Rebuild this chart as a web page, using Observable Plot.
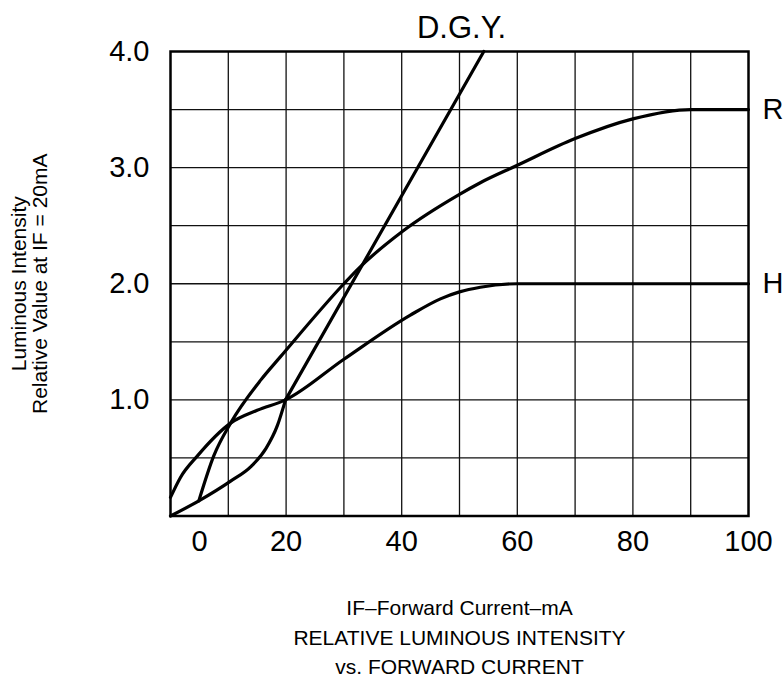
<!DOCTYPE html>
<html><head><meta charset="utf-8">
<script src="https://cdn.jsdelivr.net/npm/d3@7"></script>
<script src="https://cdn.jsdelivr.net/npm/@observablehq/plot@0.6"></script>
<style>body{margin:0;background:#fff} #chart svg{display:block}</style>
</head><body><div id="chart"></div>
<script>
// D.G.Y. curve: curved start up to IF = 20 mA, then a straight line
const dgyX = [0, 4.9, 10.4, 14, 16.5, 18.5, 19.9];
const dgyY = [0, 0.13, 0.30, 0.43, 0.58, 0.78, 1.0];
const dgyLineX = [19.9, 54.2];
const dgyLineY = [1.0, 4.0];
// R curve
const rX = [4.9, 7.5, 10.4, 15.6, 19.0, 30, 32.3, 40.1, 50, 53.6, 60, 70, 80, 90, 100];
const rY = [0.13, 0.52, 0.80, 1.17, 1.37, 2.0, 2.12, 2.45, 2.77, 2.87, 3.02, 3.25, 3.42, 3.5, 3.5];
// H curve
const hX = [0, 1.7, 4.7, 10.4, 15, 19.9, 30, 41.5, 46.7, 50, 53.6, 60, 100];
const hY = [0.16, 0.33, 0.52, 0.80, 0.91, 1.0, 1.35, 1.73, 1.87, 1.93, 1.97, 2.0, 2.0];

const xTicks = [20, 40, 60, 80, 100];
const xZeroTick = [0];
const yTicks = [1, 2, 3, 4];
const gridXValues = [10, 20, 30, 40, 50, 60, 70, 80, 90];
const gridYValues = [0.5, 1, 1.5, 2, 2.5, 3, 3.5];

const titleText = "D.G.Y.";
const yTitle = "Luminous Intensity\nRelative Value at IF = 20mA";
const caption = "IF\u2013Forward Current\u2013mA\nRELATIVE LUMINOUS INTENSITY\nvs. FORWARD CURRENT";

const toPts = (xs, ys) => xs.map((x, i) => ({x, y: ys[i]}));
const dgy = toPts(dgyX, dgyY);
const dgyLine = toPts(dgyLineX, dgyLineY);
const rCurve = toPts(rX, rY);
const hCurve = toPts(hX, hY);
const endLabels = [
  {label: "R", x: rX[rX.length - 1], y: rY[rY.length - 1]},
  {label: "H", x: hX[hX.length - 1], y: hY[hY.length - 1]}
];

const lineOpts = {x: "x", y: "y", stroke: "black", strokeWidth: 3.2, curve: "monotone-x", strokeLinejoin: "round", strokeLinecap: "round"};
const tickFont = 29;

const chart = Plot.plot({
  width: 784,
  height: 687,
  marginLeft: 170,
  marginRight: 36,
  marginTop: 51,
  marginBottom: 171.5,
  style: {fontFamily: "'Liberation Sans', Arial, Helvetica, sans-serif", background: "white", color: "black"},
  x: {domain: [0, 100]},
  y: {domain: [0, 4]},
  marks: [
    Plot.gridX(gridXValues, {stroke: "#111", strokeOpacity: 1, strokeWidth: 1.3}),
    Plot.gridY(gridYValues, {stroke: "#111", strokeOpacity: 1, strokeWidth: 1.3}),
    Plot.line(dgy, lineOpts),
    Plot.line(dgyLine, {...lineOpts, curve: "linear"}),
    Plot.line(rCurve, lineOpts),
    Plot.line(hCurve, lineOpts),
    Plot.frame({stroke: "black", strokeWidth: 2.5}),
    Plot.axisX(xTicks, {tickSize: 0, tickPadding: 14, fontSize: tickFont, label: null, fill: "black"}),
    Plot.axisX(xZeroTick, {tickSize: 0, tickPadding: 14, dx: 29, fontSize: tickFont, label: null, fill: "black"}),
    Plot.axisY(yTicks, {tickSize: 0, tickPadding: 21, fontSize: tickFont, label: null, tickFormat: d3.format(".1f"), fill: "black"}),
    Plot.text(endLabels, {x: "x", y: "y", text: "label", textAnchor: "start", dx: 14, fontSize: tickFont, fill: "black"}),
    Plot.text([titleText], {frameAnchor: "top", lineAnchor: "bottom", dy: -14, dx: 2, fontSize: 31, fill: "black"}),
    Plot.text([yTitle], {frameAnchor: "left", rotate: -90, textAnchor: "middle", lineAnchor: "top", dx: -159, fontSize: 21, lineHeight: 1.0, fill: "black"}),
    Plot.text([caption], {frameAnchor: "bottom", lineAnchor: "top", dy: 78.5, fontSize: 21, lineHeight: 1.4, fill: "black"})
  ]
});
document.getElementById("chart").appendChild(chart);
</script>
</body></html>
